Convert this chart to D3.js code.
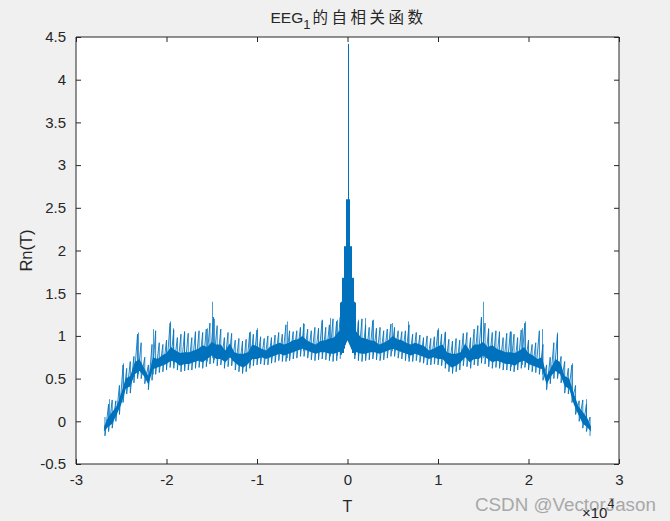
<!DOCTYPE html>
<html><head><meta charset="utf-8">
<script src="https://cdn.jsdelivr.net/npm/d3@7"></script>
<style>
html,body{margin:0;padding:0;background:#f0f0f0;}
svg{display:block;}
text{font-family:"Liberation Sans",Arial,sans-serif;fill:#262626;}
</style></head>
<body>
<script>
// ---- data ----
const xTickLabels = ["-3","-2","-1","0","1","2","3"];
const yTickLabels = ["-0.5","0","0.5","1","1.5","2","2.5","3","3.5","4","4.5"];
const xTicks = [-3,-2,-1,0,1,2,3];
const yTicks = [-0.5,0,0.5,1,1.5,2,2.5,3,3.5,4,4.5];

// lag grid (x10^4) of the dense core band
const lagT = [-2.69,-2.65,-2.60,-2.55,-2.50,-2.45,-2.40,-2.35,-2.30,-2.25,-2.20,-2.15,-2.10,-2.05,-2.00,-1.95,-1.90,-1.85,-1.80,-1.75,-1.70,-1.65,-1.60,-1.55,-1.50,-1.45,-1.40,-1.35,-1.30,-1.25,-1.20,-1.15,-1.10,-1.05,-1.00,-0.95,-0.90,-0.85,-0.80,-0.75,-0.70,-0.65,-0.60,-0.55,-0.50,-0.45,-0.40,-0.35,-0.30,-0.25,-0.20,-0.15,-0.10,-0.05,0.00,
  0.05,0.10,0.15,0.20,0.25,0.30,0.35,0.40,0.45,0.50,0.55,0.60,0.65,0.70,0.75,0.80,0.85,0.90,0.95,1.00,1.05,1.10,1.15,1.20,1.25,1.30,1.35,1.40,1.45,1.50,1.55,1.60,1.65,1.70,1.75,1.80,1.85,1.90,1.95,2.00,2.05,2.10,2.15,2.20,2.25,2.30,2.35,2.40,2.45,2.50,2.55,2.60,2.65,2.69];
const rnLow = [-0.12,-0.07,-0.03,0.08,0.20,0.38,0.41,0.55,0.59,0.53,0.43,0.61,0.63,0.65,0.67,0.71,0.69,0.65,0.67,0.67,0.69,0.71,0.69,0.73,0.77,0.73,0.73,0.69,0.75,0.69,0.65,0.63,0.67,0.73,0.73,0.75,0.73,0.75,0.77,0.79,0.77,0.79,0.81,0.83,0.85,0.83,0.81,0.79,0.81,0.81,0.79,0.79,0.81,0.83,0.95,
  0.83,0.81,0.79,0.79,0.81,0.81,0.79,0.81,0.83,0.85,0.83,0.81,0.79,0.77,0.79,0.77,0.75,0.73,0.75,0.73,0.73,0.67,0.63,0.65,0.69,0.75,0.69,0.73,0.73,0.77,0.73,0.69,0.71,0.69,0.67,0.67,0.65,0.69,0.71,0.67,0.65,0.63,0.61,0.43,0.53,0.59,0.55,0.41,0.38,0.20,0.08,-0.03,-0.07,-0.12];
const rnHigh = [-0.06,0.04,0.11,0.18,0.33,0.50,0.53,0.69,0.73,0.63,0.53,0.75,0.73,0.77,0.80,0.87,0.83,0.80,0.81,0.81,0.83,0.85,0.89,0.87,0.93,0.90,0.90,0.83,0.91,0.81,0.79,0.79,0.81,0.90,0.88,0.85,0.83,0.88,0.90,0.92,0.90,0.92,0.95,0.96,1.00,0.95,0.92,0.90,0.94,0.95,0.97,0.98,1.05,1.10,1.20,
  1.10,1.05,0.98,0.97,0.95,0.94,0.90,0.92,0.95,1.00,0.96,0.95,0.92,0.90,0.92,0.90,0.88,0.83,0.85,0.88,0.90,0.81,0.79,0.79,0.81,0.91,0.83,0.90,0.90,0.93,0.87,0.89,0.85,0.83,0.81,0.81,0.80,0.83,0.87,0.80,0.77,0.73,0.75,0.53,0.63,0.73,0.69,0.53,0.50,0.33,0.18,0.11,0.04,-0.06];

// fine oscillation extents, every 0.04 x10^4 from -2.68 to 2.68 (lag 0 excluded)
const fineT = [-2.68,-2.64,-2.60,-2.56,-2.52,-2.48,-2.44,-2.40,-2.36,-2.32,-2.28,-2.24,-2.20,-2.16,-2.12,-2.08,-2.04,-2.00,-1.96,-1.92,-1.88,-1.84,-1.80,-1.76,-1.72,-1.68,-1.64,-1.60,-1.56,-1.52,-1.48,-1.44,-1.40,-1.36,-1.32,-1.28,-1.24,-1.20,-1.16,-1.12,-1.08,-1.04,-1.00,-0.96,-0.92,-0.88,-0.84,-0.80,-0.76,-0.72,-0.68,-0.64,-0.60,-0.56,-0.52,-0.48,-0.44,-0.40,-0.36,-0.32,-0.28,-0.24,-0.20,-0.16,-0.12,-0.08,
  0.08,0.12,0.16,0.20,0.24,0.28,0.32,0.36,0.40,0.44,0.48,0.52,0.56,0.60,0.64,0.68,0.72,0.76,0.80,0.84,0.88,0.92,0.96,1.00,1.04,1.08,1.12,1.16,1.20,1.24,1.28,1.32,1.36,1.40,1.44,1.48,1.52,1.56,1.60,1.64,1.68,1.72,1.76,1.80,1.84,1.88,1.92,1.96,2.00,2.04,2.08,2.12,2.16,2.20,2.24,2.28,2.32,2.36,2.40,2.44,2.48,2.52,2.56,2.60,2.64,2.68];
const fineLow = [-0.17,-0.12,-0.08,0.00,0.08,0.22,0.32,0.33,0.45,0.50,0.50,0.44,0.37,0.48,0.55,0.57,0.58,0.60,0.63,0.62,0.60,0.58,0.59,0.60,0.60,0.62,0.63,0.62,0.64,0.67,0.68,0.65,0.66,0.62,0.64,0.65,0.60,0.58,0.56,0.58,0.62,0.65,0.66,0.67,0.66,0.66,0.68,0.69,0.71,0.70,0.70,0.71,0.73,0.74,0.76,0.76,0.74,0.72,0.71,0.72,0.73,0.72,0.71,0.70,0.71,0.73,
  0.73,0.71,0.70,0.71,0.72,0.73,0.72,0.71,0.72,0.74,0.76,0.76,0.74,0.73,0.71,0.70,0.70,0.71,0.69,0.68,0.66,0.66,0.67,0.66,0.65,0.62,0.58,0.56,0.58,0.60,0.65,0.64,0.62,0.66,0.65,0.68,0.67,0.64,0.62,0.63,0.62,0.60,0.60,0.59,0.58,0.60,0.62,0.63,0.60,0.58,0.57,0.55,0.48,0.37,0.44,0.50,0.50,0.45,0.33,0.32,0.22,0.08,0.00,-0.08,-0.12,-0.17];
const fineHigh = [0.05,0.20,0.25,0.24,0.42,0.66,0.62,0.70,0.76,1.02,0.92,0.75,0.66,0.90,1.06,0.92,0.90,0.95,1.15,1.07,0.98,1.02,1.05,1.03,0.98,1.05,1.06,1.04,1.08,1.15,1.22,1.12,1.08,0.98,1.04,1.03,0.95,0.97,0.94,0.96,1.04,1.02,1.07,0.99,0.97,1.00,0.98,1.01,1.04,1.02,1.13,1.06,1.05,1.06,1.10,1.14,1.08,1.06,1.10,1.09,1.18,1.10,1.13,1.20,1.17,1.22,
  1.22,1.17,1.20,1.13,1.10,1.18,1.09,1.10,1.06,1.08,1.14,1.10,1.06,1.05,1.06,1.13,1.02,1.04,1.01,0.98,1.00,0.97,0.99,1.07,1.02,1.04,0.96,0.94,0.97,0.95,1.03,1.04,0.98,1.08,1.12,1.22,1.15,1.08,1.04,1.06,1.05,0.98,1.03,1.05,1.02,0.98,1.07,1.15,0.95,0.90,0.92,1.06,0.90,0.66,0.75,0.92,1.02,0.76,0.70,0.62,0.66,0.42,0.24,0.25,0.20,0.05];

// distinct peaks: lag, low, high (central lobe included)
const spikeT = [-2.63,-2.485,-2.31,-2.146,-1.96,-1.93,-1.81,-1.55,-1.50,-1.48,-1.077,-1.00,-0.672,-0.49,-0.285,-0.19,-0.12,
  -0.08,-0.07,-0.06,-0.05,-0.04,-0.03,-0.02,-0.01,0,0.01,0.02,0.03,0.04,0.05,0.06,0.07,0.08,
  0.12,0.19,0.285,0.49,0.672,1.00,1.077,1.48,1.50,1.55,1.81,1.93,1.96,2.146,2.31,2.485,2.63];
const spikeLow = [-0.05,0.30,0.55,0.55,0.66,0.66,0.64,0.70,0.74,0.72,0.66,0.70,0.74,0.82,0.78,0.76,0.77,
  0.78,0.78,0.80,0.80,0.85,0.90,0.95,0.95,1.00,0.95,0.95,0.90,0.85,0.80,0.80,0.78,0.78,
  0.77,0.76,0.78,0.82,0.74,0.70,0.66,0.72,0.74,0.70,0.64,0.66,0.66,0.55,0.55,0.30,-0.05];
const spikeHigh = [0.26,0.68,1.04,1.08,1.17,1.09,1.05,1.09,1.40,1.20,1.05,1.09,1.17,1.15,1.19,1.21,1.19,
  1.39,1.40,1.68,1.68,2.05,2.05,2.60,2.60,4.42,2.60,2.60,2.05,2.05,1.68,1.68,1.40,1.39,
  1.19,1.21,1.19,1.15,1.17,1.09,1.05,1.20,1.40,1.09,1.05,1.09,1.17,1.08,1.04,0.68,0.26];

const titleMain = "EEG", titleSub = "1", titleRest = "的自相关函数";
const xLabel = "T", yLabel = "Rn(T)";
const xExponent = "4";
const watermark = "CSDN @VectorJason";

// ---- drawing ----
const W = 670, H = 521;
const L = 76, R = 619, T0 = 37, B = 464;
const col = "#0072BD", axc = "#262626";

const svg = d3.select("body").append("svg").attr("width", W).attr("height", H);
svg.append("rect").attr("width", W).attr("height", H).attr("fill", "#f0f0f0");
svg.append("rect").attr("x", L).attr("y", T0).attr("width", R - L).attr("height", B - T0).attr("fill", "#fff");

const x = d3.scaleLinear().domain([-3, 3]).range([L, R]);
const y = d3.scaleLinear().domain([-0.5, 4.5]).range([B, T0]);

svg.append("clipPath").attr("id", "c").append("rect")
  .attr("x", L).attr("y", T0).attr("width", R - L).attr("height", B - T0);
const g = svg.append("g").attr("clip-path", "url(#c)");

// fine oscillation drawn as a zig-zag polyline through its extents
const fine = fineT.map((t, i) => ({t, lo: fineLow[i], hi: fineHigh[i]}));
const fineLine = d3.line().x(d => x(d[0])).y(d => y(d[1]));
const leftFine = fine.filter(d => d.t < 0), rightFine = fine.filter(d => d.t > 0);
[leftFine, rightFine].forEach(part => {
  g.append("path").datum(part.flatMap(d => [[d.t, d.hi], [d.t, d.lo]]))
    .attr("d", fineLine).attr("fill", "none")
    .attr("stroke", col).attr("stroke-width", 1).attr("stroke-opacity", 0.85);
});

// dense core band
const band = lagT.map((t, i) => ({t, lo: rnLow[i], hi: rnHigh[i]}));
g.append("path").datum(band)
  .attr("d", d3.area().x(d => x(d.t)).y0(d => y(d.lo)).y1(d => y(d.hi)))
  .attr("fill", col);

// distinct peaks and central lobe
const spikes = spikeT.map((t, i) => ({t, lo: spikeLow[i], hi: spikeHigh[i]}));
g.selectAll("line.sp").data(spikes).enter().append("line")
  .attr("x1", d => Math.round(x(d.t)) + 0.5).attr("x2", d => Math.round(x(d.t)) + 0.5)
  .attr("y1", d => y(d.lo)).attr("y2", d => y(d.hi))
  .attr("stroke", col).attr("stroke-width", 1)
  .attr("stroke-opacity", d => Math.abs(d.t) < 0.1 ? 1 : 0.7);

// axes (ticks inward on all four sides)
const tl = 5;
const axB = svg.append("g").attr("transform", `translate(0,${B})`)
  .call(d3.axisBottom(x).tickValues(xTicks).tickSize(-tl).tickPadding(10).tickFormat((d, i) => xTickLabels[i]));
const axT = svg.append("g").attr("transform", `translate(0,${T0})`)
  .call(d3.axisTop(x).tickValues(xTicks).tickSize(-tl).tickFormat(""));
const axL = svg.append("g").attr("transform", `translate(${L},0)`)
  .call(d3.axisLeft(y).tickValues(yTicks).tickSize(-tl).tickPadding(10).tickFormat((d, i) => yTickLabels[i]));
const axR = svg.append("g").attr("transform", `translate(${R},0)`)
  .call(d3.axisRight(y).tickValues(yTicks).tickSize(-tl).tickFormat(""));
[axB, axT, axL, axR].forEach(a => {
  a.select(".domain").attr("stroke", axc).attr("stroke-width", 1);
  a.selectAll(".tick line").attr("stroke", axc);
  a.selectAll("text").attr("fill", axc).style("font-size", "15px").style("font-family", "'Liberation Sans',Arial,sans-serif");
});
axB.selectAll(".domain").attr("d", `M${L},0H${R}`);
axT.selectAll(".domain").attr("d", `M${L},0H${R}`);
axL.selectAll(".domain").attr("d", `M0,${T0}V${B}`);
axR.selectAll(".domain").attr("d", `M0,${T0}V${B}`);
axB.selectAll("text").attr("dy", "0.71em");

// labels
svg.append("text").attr("x", (L + R) / 2).attr("y", 512).attr("text-anchor", "middle")
  .style("font-size", "16px").text(xLabel);
svg.append("text").attr("transform", `translate(32,${(T0 + B) / 2}) rotate(-90)`).attr("text-anchor", "middle")
  .style("font-size", "16.5px").text(yLabel);

// title
const tt = svg.append("text").attr("x", (L + R) / 2 + 1).attr("y", 23).attr("text-anchor", "middle")
  .style("font-size", "15.5px");
tt.append("tspan").text(titleMain);
tt.append("tspan").attr("dy", 6).style("font-size", "13px").text(titleSub);
tt.append("tspan").attr("dy", -6).attr("dx", 2).style("font-family", "'Noto Sans CJK SC',sans-serif").style("letter-spacing", "3.5px").text(titleRest);

// watermark
svg.append("text").attr("x", 475).attr("y", 511).style("font-size", "18.8px")
  .style("fill", "#a8a8a8").text(watermark);

// exponent
const ex = svg.append("text").attr("x", 582).attr("y", 518).style("font-size", "15px");
ex.append("tspan").text("×10");
ex.append("tspan").attr("dy", -10).style("font-size", "12px").text(xExponent);
</script>
</body></html>
